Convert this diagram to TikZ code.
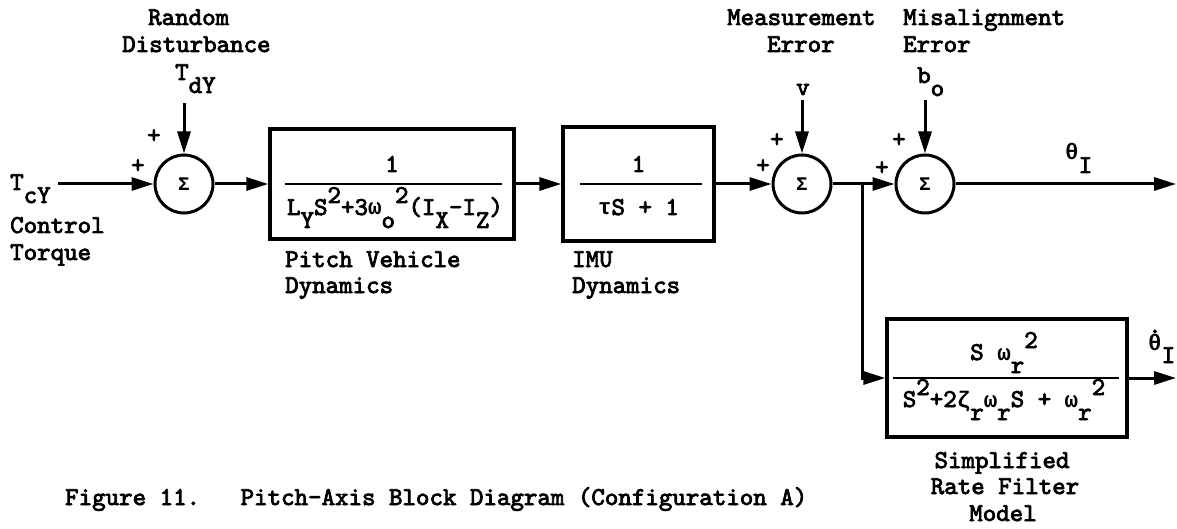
\documentclass[tikz,border=0pt]{standalone}
\usepackage{fontspec}
\newfontfamily\tw{lmmono10-regular.otf}[FakeBold=3]
\newfontfamily\grk{Liberation Mono}[Scale=0.875]
\usetikzlibrary{arrows.meta}
\newcommand{\mysup}[1]{\raisebox{12pt}{#1}}
\newcommand{\mysub}[1]{\raisebox{-13pt}{#1}}
\newcommand{\gk}[1]{{\grk\bfseries #1}}
\begin{document}
\begin{tikzpicture}[x=1pt,y=-1pt,
  txt/.style={font=\tw\fontsize{25.7}{30}\selectfont, inner sep=0pt, anchor=base west},
  sumnode/.style={circle, draw, line width=3pt, minimum size=58pt, inner sep=0pt, font=\grk\bfseries\fontsize{22}{26}\selectfont},
  blk/.style={draw, line width=3.2pt, inner sep=0pt},
  wire/.style={line width=3pt},
  frac/.style={line width=2.6pt},
  arr/.style={wire, -{Triangle[length=22pt,width=13pt]}},
]
\useasboundingbox (0,0) rectangle (1177,529);
\fill[white] (0,0) rectangle (1177,529);

% summing junctions
\node[sumnode] (s1) at (184,184) {Σ};
\node[sumnode] (s2) at (802,184) {Σ};
\node[sumnode] (s3) at (925,184) {Σ};

% blocks
\node[blk, minimum width=244pt, minimum height=110pt] (b1) at (392,184) {};
\node[blk, minimum width=151pt, minimum height=114pt] (b2) at (638.5,184) {};
\node[blk, minimum width=240pt, minimum height=118pt] (b3) at (1007,378) {};

% fractions inside blocks
\draw[frac] ([xshift=17pt]b1.west) -- ([xshift=-14pt]b1.east);
\node[txt, anchor=base] (n1) at ([yshift=12pt]b1.center) {1};
\node[txt, anchor=base] (d1) at ([xshift=3pt,yshift=-31pt]b1.center) {L\mysub{Y}S\mysup{2}+3\gk{ω}\mysub{o}\mysup{2}(I\mysub{X}-I\mysub{Z})};

\draw[frac] ([xshift=19pt]b2.west) -- ([xshift=-14pt]b2.east);
\node[txt, anchor=base] (n2) at ([yshift=12pt]b2.center) {1};
\node[txt, anchor=base] (d2) at ([yshift=-31pt]b2.center) {\gk{τ}S + 1};

\draw[frac] ([xshift=8pt]b3.west) -- ([xshift=-10pt]b3.east);
\node[txt, anchor=base] (n3) at ([xshift=-3pt,yshift=18pt]b3.center) {S \gk{ω}\mysub{r}\mysup{2}};
\node[txt, anchor=base] (d3) at ([xshift=-3pt,yshift=-29pt]b3.center) {S\mysup{2}+2\gk{ζ}\mysub{r}\gk{ω}\mysub{r}S + \gk{ω}\mysub{r}\mysup{2}};

% free ends
\coordinate (inp) at (58,184);
\coordinate (dtop) at (184,103);
\coordinate (vtop) at (802,100);
\coordinate (btop) at (925,100);
\coordinate (br) at (862,184);
\coordinate (out1) at (1176,184);
\coordinate (out2) at (1176,378);

% connectors
\draw[arr] (inp) -- (s1);
\draw[arr] (dtop) -- (s1);
\draw[arr] (s1) -- (b1);
\draw[arr] (b1) -- (b2);
\draw[arr] (b2) -- (s2);
\draw[arr] (vtop) -- (s2);
\draw[arr] (s2) -- (s3);
\draw[arr] (btop) -- (s3);
\draw[arr] (s3) -- (out1);
\draw[arr] (br) |- (b3);
\draw[arr] (b3) -- (out2);

% signs
\node[txt] (p1a) at (147,143) {+};
\node[txt] (p1b) at (131,173) {+};
\node[txt] (p2a) at (770,147) {+};
\node[txt] (p2b) at (756,173) {+};
\node[txt] (p3a) at (892,147) {+};
\node[txt] (p3b) at (875,175) {+};

% labels
\node[txt] (lr1) at (148,25) {Random};
\node[txt] (lr2) at (122,52) {Disturbance};
\node[txt] (ltd) at (175,80) {T\mysub{dY}};

\node[txt] (ltc) at (10,190) {T\mysub{cY}};
\node[txt] (lct1) at (10,233) {Control};
\node[txt] (lct2) at (10,260) {Torque};

\node[txt] (lp1) at (285,267) {Pitch Vehicle};
\node[txt] (lp2) at (285,293) {Dynamics};
\node[txt] (li1) at (572,267) {IMU};
\node[txt] (li2) at (572,293) {Dynamics};

\node[txt] (lm1) at (727,25) {Measurement};
\node[txt] (lm2) at (767,52) {Error};
\node[txt] (lv) at (796,95) {v};

\node[txt] (la1) at (903,25) {Misalignment};
\node[txt] (la2) at (903,52) {Error};
\node[txt] (lb) at (917,83) {b\mysub{o}};

\node[txt] (lth) at (1065,160) {\gk{θ}\mysub{I}};
\node[txt] (lthd) at (1148,350) {\makebox[0pt][l]{\raisebox{17pt}{.}}\gk{θ}\mysub{I}};

\node[txt, anchor=base] (lf1) at (1002,468) {Simplified};
\node[txt, anchor=base] (lf2) at (1005,494) {Rate Filter};
\node[txt, anchor=base] (lf3) at (1003,521) {Model};

\node[txt] (cap) at (65,505) {Figure 11.\ \ \ Pitch-Axis Block Diagram (Configuration A)};
\end{tikzpicture}
\end{document}
